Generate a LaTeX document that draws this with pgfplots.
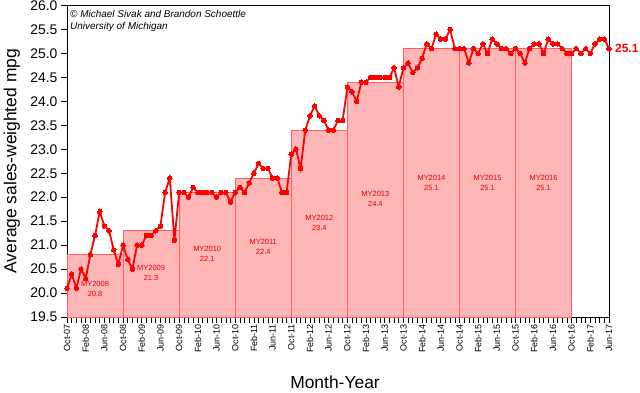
\documentclass[border=0pt]{standalone}
\usepackage{fontspec}
\setmainfont{Liberation Sans}
\usepackage{pgfplots}
\pgfplotsset{compat=1.18}
\definecolor{barfill}{RGB}{255,182,182}
\definecolor{baredge}{RGB}{255,95,95}
\definecolor{linered}{RGB}{255,0,0}
\begin{document}
\begin{tikzpicture}
\begin{axis}[
  at={(67bp,76bp)}, anchor=south west,
  scale only axis, width=542bp, height=311.5bp,
  xmin=0, xmax=116, ymin=19.5, ymax=26,
  clip=false,
  axis line style={black, line width=0.8bp},
  tick align=outside, tick pos=left,
  major tick length=6bp, minor tick length=6bp,
  tick style={black, line width=0.6bp},
  xtick={0,4,...,116},
  minor x tick num=3,
  xticklabels={Oct-07,Feb-08,Jun-08,Oct-08,Feb-09,Jun-09,Oct-09,Feb-10,Jun-10,Oct-10,Feb-11,Jun-11,Oct-11,Feb-12,Jun-12,Oct-12,Feb-13,Jun-13,Oct-13,Feb-14,Jun-14,Oct-14,Feb-15,Jun-15,Oct-15,Feb-16,Jun-16,Oct-16,Feb-17,Jun-17},
  xticklabel style={rotate=90, anchor=east, font=\fontsize{9}{10}\selectfont, inner sep=1bp},
  ytick={19.5,20,20.5,21,21.5,22,22.5,23,23.5,24,24.5,25,25.5,26},
  yticklabel style={font=\fontsize{14}{16}\selectfont},
  /pgf/number format/assume math mode=true,
  /pgf/number format/fixed, /pgf/number format/precision=1, /pgf/number format/fixed zerofill,
  xlabel={Month-Year},
  xlabel style={font=\fontsize{17.5}{20}\selectfont, at={(axis description cs:0.4945,-0.2087)}, anchor=center},
  ylabel={Average sales-weighted mpg},
  ylabel style={font=\fontsize{17.5}{20}\selectfont, at={(axis description cs:-0.1015,0.5)}, anchor=center, rotate=0},
]
% model-year bars
\addplot[fill=barfill, draw=baredge, line width=0.6bp] coordinates {(0,19.5) (0,20.8) (12,20.8) (12,19.5)} -- cycle;
\addplot[fill=barfill, draw=baredge, line width=0.6bp] coordinates {(12,19.5) (12,21.3) (24,21.3) (24,19.5)} -- cycle;
\addplot[fill=barfill, draw=baredge, line width=0.6bp] coordinates {(24,19.5) (24,22.1) (36,22.1) (36,19.5)} -- cycle;
\addplot[fill=barfill, draw=baredge, line width=0.6bp] coordinates {(36,19.5) (36,22.4) (48,22.4) (48,19.5)} -- cycle;
\addplot[fill=barfill, draw=baredge, line width=0.6bp] coordinates {(48,19.5) (48,23.4) (60,23.4) (60,19.5)} -- cycle;
\addplot[fill=barfill, draw=baredge, line width=0.6bp] coordinates {(60,19.5) (60,24.4) (72,24.4) (72,19.5)} -- cycle;
\addplot[fill=barfill, draw=baredge, line width=0.6bp] coordinates {(72,19.5) (72,25.1) (84,25.1) (84,19.5)} -- cycle;
\addplot[fill=barfill, draw=baredge, line width=0.6bp] coordinates {(84,19.5) (84,25.1) (96,25.1) (96,19.5)} -- cycle;
\addplot[fill=barfill, draw=baredge, line width=0.6bp] coordinates {(96,19.5) (96,25.1) (108,25.1) (108,19.5)} -- cycle;
% monthly line
\addplot[linered, line width=1.8bp, mark=*, mark size=2.3bp, mark options={fill=linered, draw=linered, line width=0bp}] table {
x y
0 20.1
1 20.4
2 20.1
3 20.5
4 20.3
5 20.8
6 21.2
7 21.7
8 21.4
9 21.3
10 20.9
11 20.6
12 21.0
13 20.7
14 20.5
15 21.0
16 21.0
17 21.2
18 21.2
19 21.3
20 21.4
21 22.1
22 22.4
23 21.1
24 22.1
25 22.1
26 22.0
27 22.2
28 22.1
29 22.1
30 22.1
31 22.1
32 22.0
33 22.1
34 22.1
35 21.9
36 22.1
37 22.2
38 22.1
39 22.3
40 22.5
41 22.7
42 22.6
43 22.6
44 22.4
45 22.4
46 22.1
47 22.1
48 22.9
49 23.0
50 22.6
51 23.4
52 23.7
53 23.9
54 23.7
55 23.6
56 23.4
57 23.4
58 23.6
59 23.6
60 24.3
61 24.2
62 24.0
63 24.4
64 24.4
65 24.5
66 24.5
67 24.5
68 24.5
69 24.5
70 24.7
71 24.3
72 24.7
73 24.8
74 24.6
75 24.7
76 24.9
77 25.2
78 25.1
79 25.4
80 25.3
81 25.3
82 25.5
83 25.1
84 25.1
85 25.1
86 24.8
87 25.1
88 25.0
89 25.2
90 25.0
91 25.3
92 25.2
93 25.1
94 25.1
95 25.0
96 25.1
97 25.0
98 24.8
99 25.1
100 25.2
101 25.2
102 25.0
103 25.3
104 25.2
105 25.2
106 25.1
107 25.0
108 25.0
109 25.1
110 25.0
111 25.1
112 25.0
113 25.2
114 25.3
115 25.3
116 25.1
};
% bar labels
\tikzset{mylab/.style={text=red!90!black, font=\fontsize{7.5}{10}\selectfont, align=center, inner sep=0pt}}
\node[mylab] at (axis cs:6,20.09) {MY2008\\20.8};
\node[mylab] at (axis cs:18,20.42) {MY2009\\21.3};
\node[mylab] at (axis cs:30,20.82) {MY2010\\22.1};
\node[mylab] at (axis cs:42,20.97) {MY2011\\22.4};
\node[mylab] at (axis cs:54,21.47) {MY2012\\23.4};
\node[mylab] at (axis cs:66,21.97) {MY2013\\24.4};
\node[mylab] at (axis cs:78,22.3) {MY2014\\25.1};
\node[mylab] at (axis cs:90,22.3) {MY2015\\25.1};
\node[mylab] at (axis cs:102,22.3) {MY2016\\25.1};
% end value
\node[anchor=west, text=linered, font=\bfseries\fontsize{12}{14}\selectfont, inner sep=0pt, xshift=6bp] at (axis cs:116,25.1) {25.1};
% credit
\node[anchor=north west, align=left, font=\itshape\fontsize{10}{12}\selectfont, inner sep=0pt, xshift=3bp, yshift=-5bp] at (axis description cs:0,1) {© Michael Sivak and Brandon Schoettle\\University of Michigan};
\end{axis}
\pgfresetboundingbox
\path[use as bounding box] (0,0) rectangle (640bp,393bp);
\end{tikzpicture}
\end{document}
